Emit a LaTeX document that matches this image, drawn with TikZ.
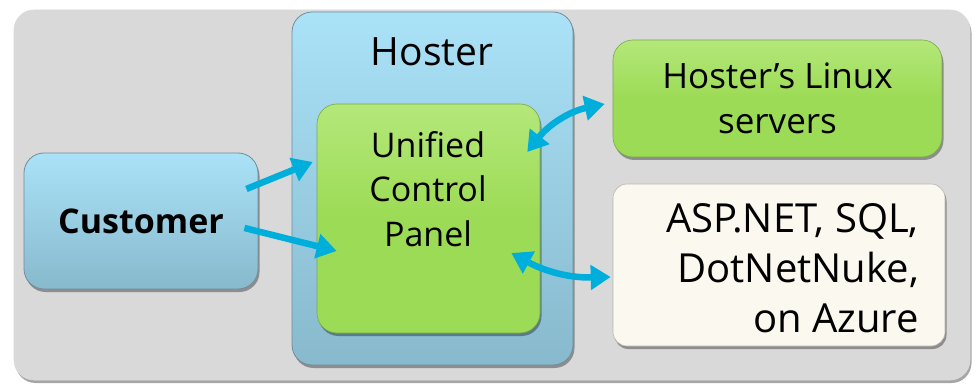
\documentclass[tikz,border=0pt]{standalone}
\usepackage{fontspec}
\setmainfont{Open Sans}
\usetikzlibrary{arrows.meta,shadows}
\definecolor{panelgray}{HTML}{D9D9D9}
\definecolor{bluetop}{HTML}{AAE2F7}
\definecolor{bluebot}{HTML}{88B9CD}
\definecolor{blueedge}{HTML}{6F8D9C}
\definecolor{greenfill}{HTML}{9CDB55}
\definecolor{greentop}{HTML}{B4E87A}
\definecolor{greenedge}{HTML}{7BA84A}
\definecolor{cream}{HTML}{FBF9EF}
\definecolor{creamedge}{HTML}{B8B6AC}
\definecolor{arrowblue}{HTML}{00AEDB}
\begin{document}
\begin{tikzpicture}[x=1pt,y=-1pt,
  shadowed/.style={drop shadow={shadow xshift=1.5pt,shadow yshift=-3pt,opacity=0.35,fill=black}},
  panelbox/.style={rounded corners=20pt,fill=panelgray,draw=white!85!black,line width=0.6pt,shadowed},
  bluebox/.style={rounded corners=20pt,top color=bluetop,bottom color=bluebot,draw=blueedge,line width=0.8pt,shadowed},
  greenbox/.style={rounded corners=20pt,top color=greentop,bottom color=greenfill,middle color=greenfill,draw=greenedge,line width=0.6pt,shadowed},
  creambox/.style={rounded corners=14pt,fill=cream,draw=creamedge,line width=0.6pt,shadowed},
  lbl/.style={font=\fontsize{30}{45}\selectfont,text=black,inner sep=0pt},
  arr/.style={draw=arrowblue,line width=6.5pt,-{Triangle[length=20pt,width=24pt]}},
  darr/.style={draw=arrowblue,line width=6.5pt,{Triangle[length=20pt,width=24pt]}-{Triangle[length=20pt,width=24pt]}}
]
\useasboundingbox (0,0) rectangle (978,385);
\node[panelbox,minimum width=956pt,minimum height=370pt,inner sep=0pt] (panel) at (492,195) {};
\node[bluebox,minimum width=234pt,minimum height=136pt,inner sep=0pt,lbl,font=\fontsize{34}{40}\selectfont\bfseries] (customer) at (141,221) {Customer};
\node[bluebox,minimum width=281pt,minimum height=353pt,inner sep=0pt] (hoster) at (432.5,188.5) {};
\node[lbl,font=\fontsize{39}{46}\selectfont] (hosterlbl) at (432,52) {Hoster};
\node[greenbox,minimum width=223pt,minimum height=229pt,inner sep=0pt] (ucp) at (428.5,218.5) {};
\node[lbl,align=center,font=\fontsize{34}{44.5}\selectfont] (ucptext) at (428,189) {Unified\\Control\\Panel};
\node[greenbox,minimum width=329pt,minimum height=117pt,inner sep=0pt,lbl,align=center,font=\fontsize{35}{45}\selectfont] (linux) at (777.5,98.5) {Hoster’s Linux\\servers};
\node[creambox,minimum width=332pt,minimum height=162pt,inner sep=0pt] (asp) at (779,265) {};
\node[lbl,align=right,anchor=east,font=\fontsize{40}{50}\selectfont] (asptext) at (919,268) {ASP.NET, SQL,\\DotNetNuke,\\on Azure};
\draw[arr] ([shift={(-12,-32)}]customer.east) -- ([shift={(-4,-56.5)}]ucp.west);
\draw[arr] ([shift={(-14,7)}]customer.east) -- ([shift={(20,32.5)}]ucp.west);
\draw[darr] ([shift={(-13,-66.5)}]ucp.east) to[bend left=20] ([shift={(-8,5.5)}]linux.west);
\draw[darr] ([shift={(-29,34.5)}]ucp.east) to[bend right=15] ([shift={(-2,12)}]asp.west);
\end{tikzpicture}
\end{document}
